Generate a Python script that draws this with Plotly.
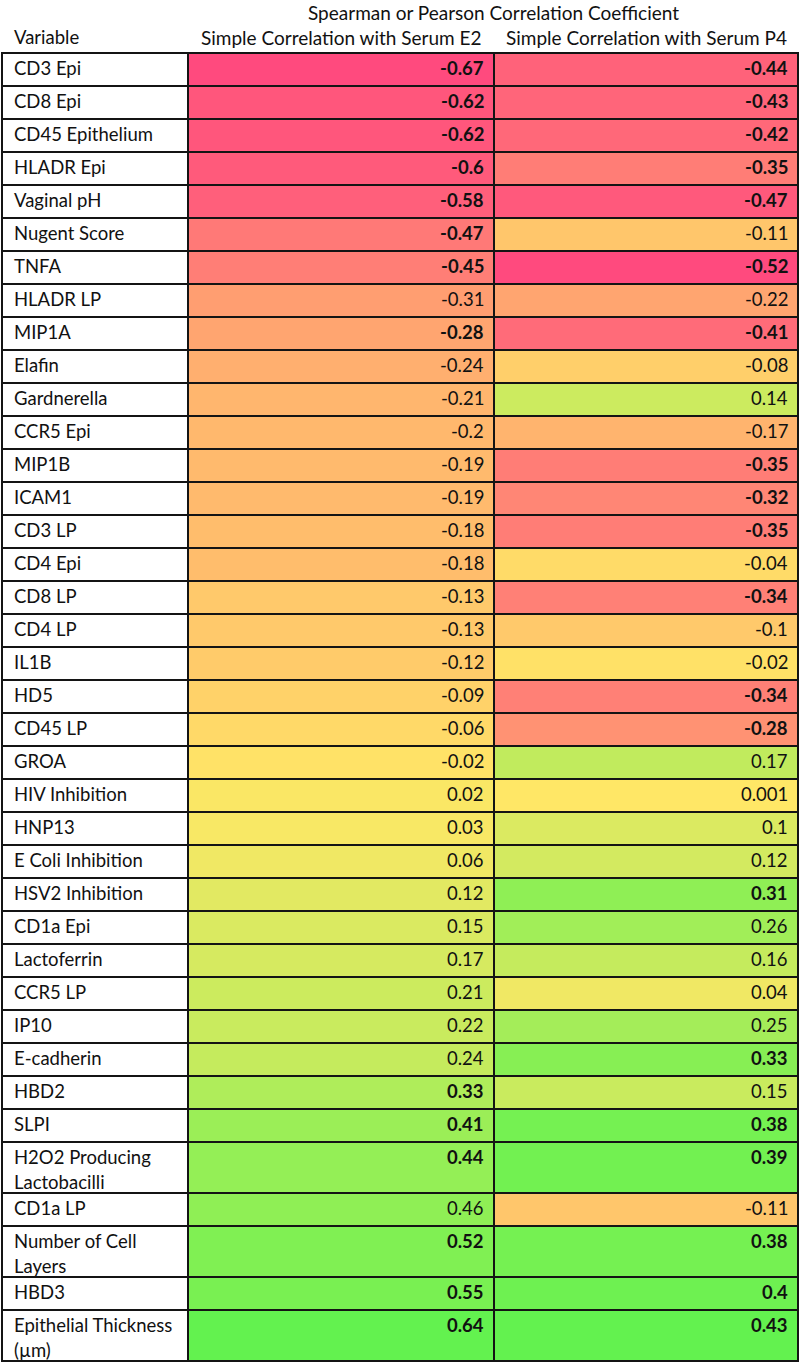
import plotly.graph_objects as go

# ---- data -------------------------------------------------------------
variables = [
    "CD3 Epi", "CD8 Epi", "CD45 Epithelium", "HLADR Epi", "Vaginal pH",
    "Nugent Score", "TNFA", "HLADR LP", "MIP1A", "Elafin", "Gardnerella",
    "CCR5 Epi", "MIP1B", "ICAM1", "CD3 LP", "CD4 Epi", "CD8 LP", "CD4 LP",
    "IL1B", "HD5", "CD45 LP", "GROA", "HIV Inhibition", "HNP13",
    "E Coli Inhibition", "HSV2 Inhibition", "CD1a Epi", "Lactoferrin",
    "CCR5 LP", "IP10", "E-cadherin", "HBD2", "SLPI",
    "H2O2 Producing<br>Lactobacilli", "CD1a LP", "Number of Cell<br>Layers",
    "HBD3", "Epithelial Thickness<br>(µm)",
]
e2_corr = [
    -0.67, -0.62, -0.62, -0.6, -0.58, -0.47, -0.45, -0.31, -0.28, -0.24,
    -0.21, -0.2, -0.19, -0.19, -0.18, -0.18, -0.13, -0.13, -0.12, -0.09,
    -0.06, -0.02, 0.02, 0.03, 0.06, 0.12, 0.15, 0.17, 0.21, 0.22, 0.24,
    0.33, 0.41, 0.44, 0.46, 0.52, 0.55, 0.64,
]
p4_corr = [
    -0.44, -0.43, -0.42, -0.35, -0.47, -0.11, -0.52, -0.22, -0.41, -0.08,
    0.14, -0.17, -0.35, -0.32, -0.35, -0.04, -0.34, -0.1, -0.02, -0.34,
    -0.28, 0.17, 0.001, 0.1, 0.12, 0.31, 0.26, 0.16, 0.04, 0.25, 0.33,
    0.15, 0.38, 0.39, -0.11, 0.38, 0.4, 0.43,
]
# 1 = significant (shown in bold)
e2_bold = [1, 1, 1, 1, 1, 1, 1, 0, 1, 0, 0, 0, 0, 0, 0, 0, 0, 0, 0, 0,
           0, 0, 0, 0, 0, 0, 0, 0, 0, 0, 0, 1, 1, 1, 0, 1, 1, 1]
p4_bold = [1, 1, 1, 1, 1, 0, 1, 0, 1, 0, 0, 0, 1, 1, 1, 0, 1, 0, 0, 1,
           1, 0, 0, 0, 0, 1, 0, 0, 0, 0, 1, 0, 1, 1, 0, 1, 1, 1]
column_titles = ["Simple Correlation with Serum E2", "Simple Correlation with Serum P4"]
group_title = "Spearman or Pearson Correlation Coefficient"
label_title = "Variable"

# ---- layout constants ------------------------------------------------
FONT = "Lato"
FS = 18.5
TEXT = "#111111"
COL_EDGES = [0, 186, 492, 796]
ROW_H, ROW_H2, LINE_H = 33, 51, 25
PINK, YELLOW, GREEN = "#ff4a7e", "#ffe766", "#63f24f"

heights = [ROW_H2 if "<br>" in v else ROW_H for v in variables]
row_edges = [0]
for h in heights:
    row_edges.append(row_edges[-1] + h)
total_h = row_edges[-1]


def diverging_scale(values):
    lo, hi = min(values), max(values)
    mid = (0 - lo) / (hi - lo)
    return [[0, PINK], [mid, YELLOW], [1, GREEN]], lo, hi


def font(size=FS):
    return dict(size=size, color=TEXT, family=FONT)


fig = go.Figure()

# label column: plain white cells
fig.add_trace(go.Heatmap(
    z=[[0] for _ in variables], x=COL_EDGES[0:2], y=row_edges,
    colorscale=[[0, "white"], [1, "white"]], showscale=False,
    xgap=2, ygap=2, hoverinfo="skip",
))

for i, (vals, bold) in enumerate([(e2_corr, e2_bold), (p4_corr, p4_bold)]):
    scale, lo, hi = diverging_scale(vals)
    fig.add_trace(go.Heatmap(
        z=[[v] for v in vals], x=COL_EDGES[i + 1:i + 3], y=row_edges,
        colorscale=scale, zmin=lo, zmax=hi, showscale=False,
        xgap=2, ygap=2, hovertemplate="%{z}<extra></extra>",
    ))
    for r, (v, b) in enumerate(zip(vals, bold)):
        txt = f"<b>{v}</b>" if b else str(v)
        fig.add_annotation(
            x=COL_EDGES[i + 2], y=row_edges[r] + ROW_H / 2 - 2, text=txt,
            xanchor="right", yanchor="middle", xshift=-8, showarrow=False,
            font=font(),
        )
    fig.add_annotation(
        x=(COL_EDGES[i + 1] + COL_EDGES[i + 2]) / 2, xref="x",
        y=1, yref="paper", yshift=15, text=column_titles[i],
        xanchor="center", yanchor="middle", showarrow=False, font=font(19),
    )

for r, name in enumerate(variables):
    for k, line in enumerate(name.split("<br>")):
        fig.add_annotation(
            x=COL_EDGES[0], y=row_edges[r] + ROW_H / 2 - 2 + k * LINE_H, text=line,
            xanchor="left", yanchor="middle", xshift=10, showarrow=False,
            font=font(),
        )

fig.add_annotation(
    x=COL_EDGES[0], xref="x", y=1, yref="paper", yshift=15, text=label_title,
    xanchor="left", yanchor="middle", xshift=10, showarrow=False, font=font(),
)
fig.add_annotation(
    x=(COL_EDGES[1] + COL_EDGES[3]) / 2, xref="x", y=1, yref="paper", yshift=40,
    text=group_title, xanchor="center", yanchor="middle", showarrow=False,
    font=font(19),
)

fig.update_layout(
    width=800, height=1363,
    margin=dict(l=1, r=1, t=52, b=1363 - 52 - (total_h + 2)),
    paper_bgcolor="white", plot_bgcolor="#141414",
    showlegend=False,
)
fig.update_xaxes(range=[-1, COL_EDGES[-1] + 1], visible=False, fixedrange=True)
fig.update_yaxes(range=[total_h + 1, -1], visible=False, fixedrange=True)

fig.write_html(
    "out.html",
    config={"displayModeBar": False},
    post_script="document.body.style.margin='0';",
)
